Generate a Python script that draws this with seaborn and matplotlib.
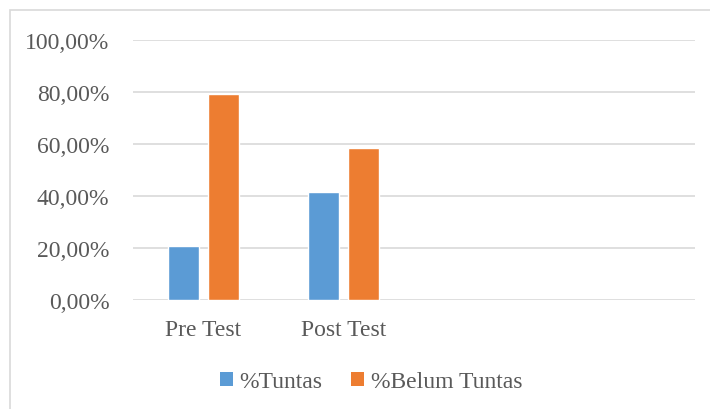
import numpy as np
import matplotlib
matplotlib.use("Agg")
import matplotlib.pyplot as plt
import pandas as pd
import seaborn as sns
from matplotlib.patches import Rectangle, Patch

# data
tests = ["Pre Test", "Post Test"]
tuntas = [20.83, 41.67]
belum_tuntas = [79.17, 58.33]
series_names = ["%Tuntas", "%Belum Tuntas"]
colors = ["#5B9BD5", "#ED7D31"]
y_ticks = [0, 20, 40, 60, 80, 100]

df = pd.DataFrame({
    "test": tests * 2,
    "series": [series_names[0]] * len(tests) + [series_names[1]] * len(tests),
    "value": tuntas + belum_tuntas,
})

sns.set_theme(style="white")
plt.rcParams["font.family"] = ["Liberation Serif", "DejaVu Serif"]
text_color = "#595959"
grid_color = "#d9d9d9"

fig = plt.figure(figsize=(7.1, 4.1), dpi=100)
ax = fig.add_axes([133 / 710, 1 - 301 / 410, (695 - 133) / 710, (301 - 41) / 410])

sns.barplot(data=df, x="test", y="value", hue="series", order=tests,
            hue_order=series_names, palette=colors, width=0.568, gap=0.225,
            legend=False, ax=ax, saturation=1)

ax.set_xlim(-0.5, 3.5)
ax.set_ylim(0, 100)
ax.set_yticks(y_ticks)
ax.set_yticklabels([f"{v:.2f}%".replace(".", ",") for v in y_ticks])
for v in y_ticks:
    ax.axhline(v, color=grid_color, lw=1.2, zorder=0)
for s in ax.spines.values():
    s.set_visible(False)
ax.set_xlabel("")
ax.set_ylabel("")
ax.tick_params(axis="y", length=0, pad=17, labelsize=17, labelcolor=text_color)
ax.tick_params(axis="x", length=0, pad=14, labelsize=17, labelcolor=text_color)

# outer chart border
fig.patches.append(Rectangle((10 / 710, -0.05), 1.1, 1 - 11 / 410 + 0.05,
                             transform=fig.transFigure, fill=False,
                             edgecolor=grid_color, lw=1.2))

handles = [Patch(facecolor=c, edgecolor="none") for c in colors]
leg = fig.legend(handles, series_names, loc="center", bbox_to_anchor=(371 / 710, 1 - 383 / 410),
                 ncol=2, frameon=False, fontsize=17, handlelength=0.55, handleheight=0.55,
                 handletextpad=0.3, columnspacing=1.2)
for t in leg.get_texts():
    t.set_color(text_color)

fig.savefig("out.png", dpi=100)
